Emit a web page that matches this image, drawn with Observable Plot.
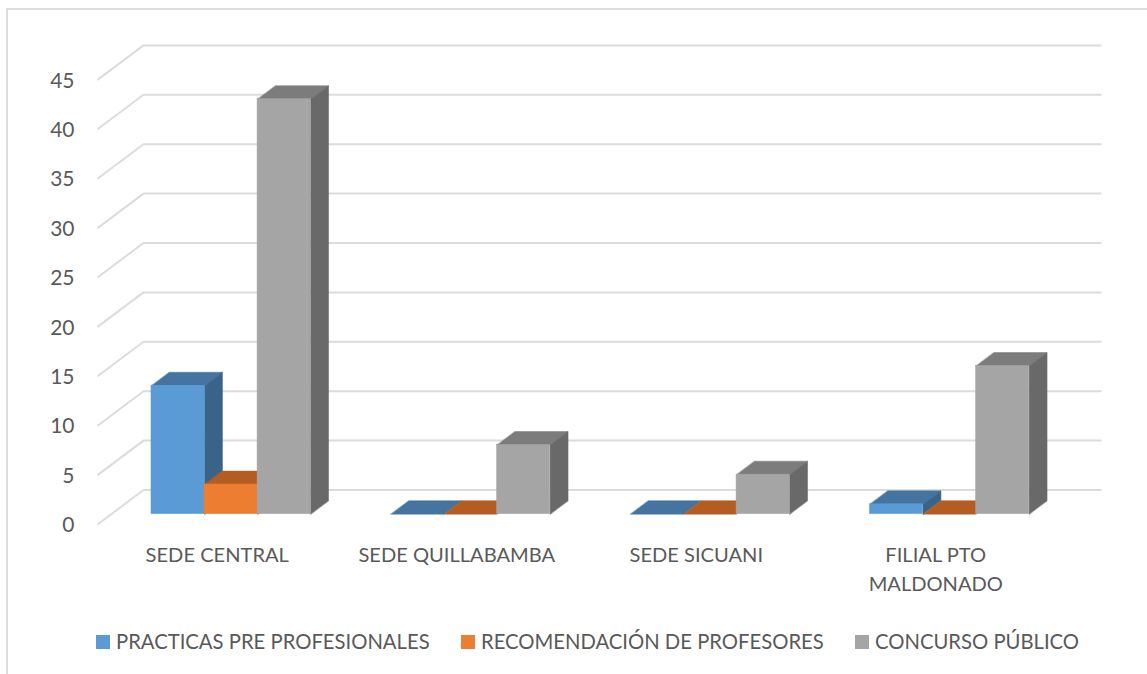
<!DOCTYPE html>
<html>
<head>
<meta charset="utf-8">
<script src="https://cdn.jsdelivr.net/npm/d3@7"></script>
<script src="https://cdn.jsdelivr.net/npm/@observablehq/plot@0.6"></script>
<style>
  html, body { margin: 0; padding: 0; background: #fff; width: 1147px; height: 674px; overflow: hidden; }
  body { position: relative; font-family: Lato, sans-serif; }
  #frame { position: absolute; left: 6px; top: 8px; right: 0; bottom: -4px; border: 2px solid #dcdcdc; border-right: 0; border-bottom: 0; }
  #chart { position: absolute; left: 0; top: 0; }
  #legend { position: absolute; left: 0; top: 627px; width: 1147px; height: 30px; color: #595959; font-size: 20.25px; line-height: 28px; }
  .item { position: absolute; top: 0; white-space: nowrap; }
  .sw { position: absolute; top: 8px; width: 14px; height: 14px; }
</style>
</head>
<body>
<div id="frame"></div>
<div id="chart"></div>
<div id="legend"></div>
<script>
const categories = ["SEDE CENTRAL", "SEDE QUILLABAMBA", "SEDE SICUANI", "FILIAL PTO\nMALDONADO"];
const seriesNames = ["PRACTICAS PRE PROFESIONALES", "RECOMENDACIÓN DE PROFESORES", "CONCURSO PÚBLICO"];
const practicas = [13, 0, 0, 1];
const recomendacion = [3, 0, 0, 0];
const concurso = [42, 7, 4, 15];
const yTicks = [0, 5, 10, 15, 20, 25, 30, 35, 40, 45];
const frontColors = ["#5B9BD5", "#ED7D31", "#A5A5A5"];
const topColors = ["#44749F", "#B35D22", "#7C7C7C"];
const sideColors = ["#39648A", "#9A5020", "#696969"];
const legendLefts = [96, 461, 855];

const seriesValues = [practicas, recomendacion, concurso];

// oblique projection of the chart's depth onto the x and y scales
const depthX = 0.192, depthY = 3.49;
const barFront = 0.30, barBack = 0.69, barWidth = 0.2215;
const px = (c, d) => c + depthX * d;
const py = (v, d) => v + depthY * d;

function barCorners(si, ci) {
  const v = seriesValues[si][ci];
  const c1 = ci + 0.5 + (si - 1.5) * barWidth, c2 = c1 + barWidth;
  return {v, c1, c2};
}

const marks = [];

// gridlines: back wall plus floor-to-wall diagonal
const grid = yTicks.flatMap(t => [
  {t, x: px(0, 0), y: py(t, 0)},
  {t, x: px(0, 1), y: py(t, 1)},
  {t, x: px(categories.length, 1), y: py(t, 1)}
]);
marks.push(Plot.line(grid, {x: "x", y: "y", z: "t", stroke: "#dcdcdc", strokeWidth: 2, curve: "linear", strokeLinecap: "butt"}));

seriesValues.forEach((vals, si) => {
  const faces = vals.flatMap((_, ci) => {
    const {v, c1, c2} = barCorners(si, ci);
    const top = [[c1, barFront], [c2, barFront], [c2, barBack], [c1, barBack]]
      .map(([c, d]) => ({id: `t${ci}`, x: px(c, d), y: py(v, d), color: topColors[si]}));
    const side = v > 0 ? [[0, barFront], [v, barFront], [v, barBack], [0, barBack]]
      .map(([w, d]) => ({id: `s${ci}`, x: px(c2, d), y: py(w, d), color: sideColors[si]})) : [];
    return [...top, ...side];
  });
  marks.push(Plot.line(faces, {
    x: "x", y: "y", z: "id", fill: "color", stroke: "color", strokeWidth: 0.5, curve: "linear-closed"
  }));
  const fronts = vals.map((_, ci) => {
    const {v, c1, c2} = barCorners(si, ci);
    return {x1: px(c1, barFront), x2: px(c2, barFront), y1: py(0, barFront), y2: py(v, barFront)};
  });
  marks.push(Plot.rect(fronts, {
    x1: "x1", x2: "x2", y1: "y1", y2: "y2", fill: frontColors[si], stroke: frontColors[si], strokeWidth: 0.5
  }));
});

marks.push(Plot.axisY({
  ticks: yTicks, tickSize: 0, tickPadding: 23, label: null,
  fontSize: 21, fill: "#595959", dy: 1
}));
marks.push(Plot.axisX({
  ticks: categories.map((_, i) => i + 0.5),
  tickFormat: c => categories[Math.floor(c)],
  tickSize: 0, tickPadding: 17, label: null,
  fontSize: 20.1, fill: "#595959", lineHeight: 1.45
}));

const plot = Plot.plot({
  width: 1147,
  height: 612,
  marginLeft: 97,
  marginRight: 92,
  marginTop: 30,
  marginBottom: 88,
  x: {domain: [0, categories.length]},
  y: {domain: [0, 50]},
  style: {background: "transparent", fontFamily: "Lato, sans-serif", overflow: "visible"},
  marks
});
document.getElementById("chart").append(plot);

const legend = document.getElementById("legend");
seriesNames.forEach((name, i) => {
  const item = document.createElement("div");
  item.className = "item";
  item.style.left = legendLefts[i] + "px";
  const sw = document.createElement("span");
  sw.className = "sw";
  sw.style.background = frontColors[i];
  const label = document.createElement("span");
  label.textContent = name;
  label.style.marginLeft = "20px";
  item.append(sw, label);
  legend.append(item);
});
</script>
</body>
</html>
